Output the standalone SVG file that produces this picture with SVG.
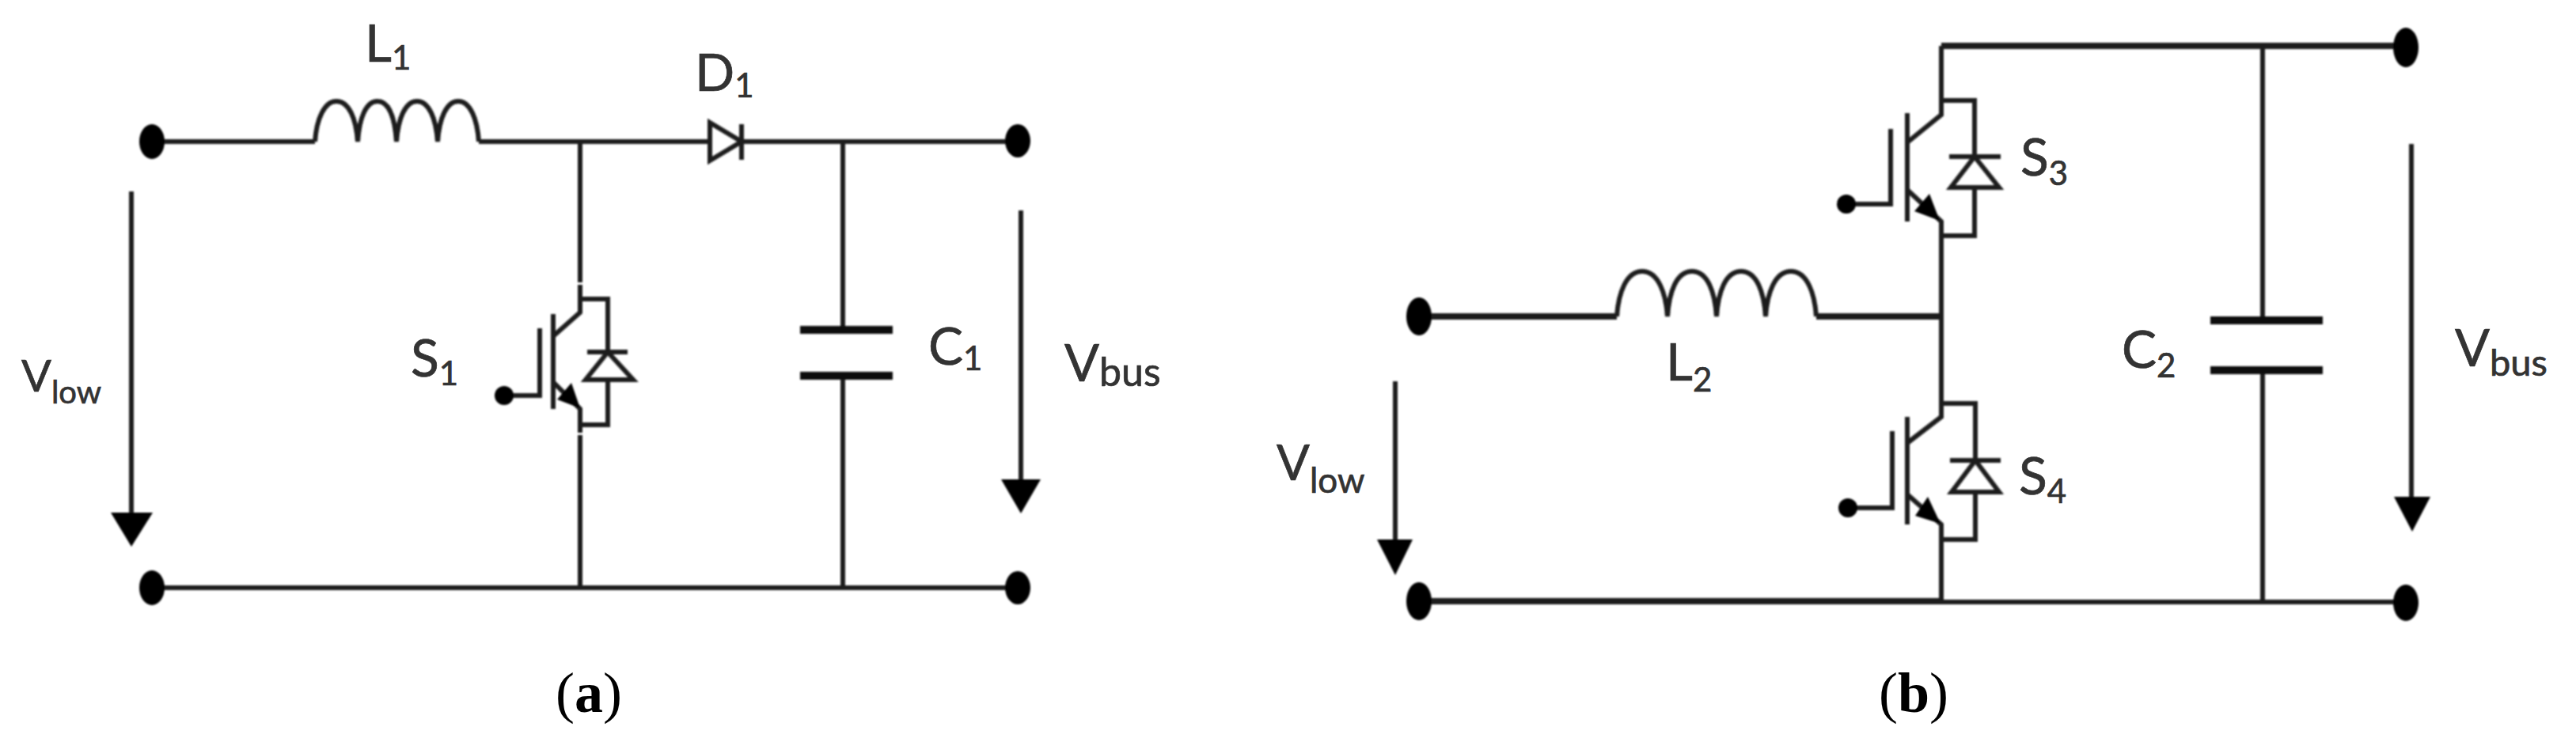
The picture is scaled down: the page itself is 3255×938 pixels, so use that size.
<svg xmlns="http://www.w3.org/2000/svg" width="3255" height="938" viewBox="0 0 3255 938">
<defs>
<filter id="soft" x="-5%" y="-5%" width="110%" height="110%"><feGaussianBlur stdDeviation="1"/></filter>
</defs>
<style>
.w{fill:none;stroke:#1c1c1c;stroke-width:6;stroke-linejoin:miter}
.h{fill:none;stroke:#1c1c1c;stroke-width:8}
.p{fill:none;stroke:#111;stroke-width:10}
.t{fill:#000;stroke:none}
.f{font-family:Lato,"Open Sans","Liberation Sans",sans-serif;fill:#333;stroke:#333;stroke-width:.7}
.cap{font-size:66px}
.sub{font-size:42px}
.cp{font-family:"Liberation Serif",serif;font-size:72px;fill:#000}
</style>
<rect width="3255" height="938" fill="#fff"/>
<g filter="url(#soft)">
<g id="connectors">
<path class="w" d="M192 179H398M605 179H897M937 179H1286M192 743H1286M733 179V357M733 360V378M733 537V547M733 550V743M1065 179V417M1065 475V743"/>
<path class="w" d="M2453 58V127M2453 298V400M2453 400V510M2453 682V760M2859 58V405M2859 468V762"/>
<path class="h" d="M1793 400H2043M2295 400H2453M1793 760H2453M2453 58H3040"/>
<path class="w" d="M2453 761H3040"/>
</g>
<g id="L1"><path class="w" d="M398 179C400 150 410 128 425 128C441 128 450 150 452 179C454 150 462 128 477 128C492 128 499 150 501 179C503 150 512 128 527 128C542 128 551 150 553 179C555 150 564 128 579 128C594 128 603 150 605 179"/></g>
<g id="D1"><path class="w" d="M897 155V203L937 179ZM937 157V202"/></g>
<g id="S1">
<path class="w" d="M733 378H768V445M768 480V537H733M742 445H793M768 445L740 480H800ZM733 378V395L699 425M699 397V517M699 483L733 517V537M682 415V500H637"/>
<circle class="t" cx="637" cy="500" r="12"/>
<polygon class="t" points="733,516 722,484 704,505"/>
</g>
<g id="C1"><path class="p" d="M1011 417H1128M1011 475H1128"/></g>
<g id="terminals-a">
<ellipse class="t" cx="192" cy="179" rx="16" ry="22"/><ellipse class="t" cx="1286" cy="178" rx="16" ry="21"/><ellipse class="t" cx="192" cy="743" rx="16" ry="22"/><ellipse class="t" cx="1286" cy="743" rx="16" ry="21"/>
</g>
<g id="Vlow-a"><path class="w" d="M166 242V650"/><polygon class="t" points="140,648 193,648 166,691"/></g>
<g id="Vbus-a"><path class="w" d="M1290 266V610"/><polygon class="t" points="1265,606 1315,606 1290,649"/></g>
<g id="L2"><path class="w" d="M2043 400C2045 370 2055 343 2075 343C2095 343 2105 370 2107 400C2109 370 2118 343 2138 343C2158 343 2167 370 2169 400C2171 370 2180 343 2200 343C2220 343 2229 370 2231 400C2233 370 2243 343 2263 343C2283 343 2293 370 2295 400"/></g>
<g id="S3">
<path class="w" d="M2453 127H2495V198M2495 237V298H2453M2463 198H2528M2495 198L2465 237H2526ZM2453 127V145L2410 180M2410 143V280M2410 240L2453 280V298M2389 163V258H2333"/>
<circle class="t" cx="2333" cy="258" r="12"/>
<polygon class="t" points="2451,279 2438,245 2419,267"/>
</g>
<g id="S4">
<path class="w" d="M2453 510H2496V582M2496 622V682H2453M2464 582H2528M2496 582L2466 622H2526ZM2453 510V527L2410 560M2410 527V663M2410 625L2453 663V682M2391 545V642H2335"/>
<circle class="t" cx="2335" cy="642" r="12"/>
<polygon class="t" points="2452,662 2436,628 2420,652"/>
</g>
<g id="C2"><path class="p" d="M2793 405H2935M2793 468H2935"/></g>
<g id="terminals-b">
<ellipse class="t" cx="1793" cy="400" rx="16" ry="24"/><ellipse class="t" cx="3040" cy="60" rx="16" ry="25"/><ellipse class="t" cx="1793" cy="760" rx="16" ry="24"/><ellipse class="t" cx="3040" cy="762" rx="16" ry="23"/>
</g>
<g id="Vlow-b"><path class="w" d="M1763 482V685"/><polygon class="t" points="1740,682 1785,682 1763,727"/></g>
<g id="Vbus-b"><path class="w" d="M3047 182V632"/><polygon class="t" points="3025,628 3071,628 3048,672"/></g>
</g>
<g id="labels">
<text class="f cap" x="461" y="78">L<tspan class="sub" dy="10">1</tspan></text>
<text class="f cap" x="878" y="115">D<tspan class="sub" dy="8">1</tspan></text>
<text class="f cap" x="519" y="476">S<tspan class="sub" dy="11">1</tspan></text>
<text class="f cap" x="1173" y="461">C<tspan class="sub" dy="7">1</tspan></text>
<text class="f" x="27" y="495" font-size="56">V<tspan font-size="40" dy="15">low</tspan></text>
<text class="f" x="1345" y="482" font-size="65">V<tspan font-size="50" dy="6">bus</tspan></text>
<text class="f cap" x="2105" y="481">L<tspan class="sub" dy="14">2</tspan></text>
<text class="f cap" x="2553" y="222">S<tspan class="sub" dy="12">3</tspan></text>
<text class="f cap" x="2551" y="625">S<tspan class="sub" dy="11">4</tspan></text>
<text class="f cap" x="2681" y="465">C<tspan class="sub" dy="12">2</tspan></text>
<text class="f" x="1613" y="607" font-size="62">V<tspan font-size="44" dy="16">low</tspan></text>
<text class="f" x="3102" y="463" font-size="65">V<tspan font-size="47" dy="12">bus</tspan></text>
<text class="cp" x="702" y="900">(<tspan font-weight="bold">a</tspan>)</text>
<text class="cp" x="2374" y="900">(<tspan font-weight="bold">b</tspan>)</text>
</g>
</svg>
